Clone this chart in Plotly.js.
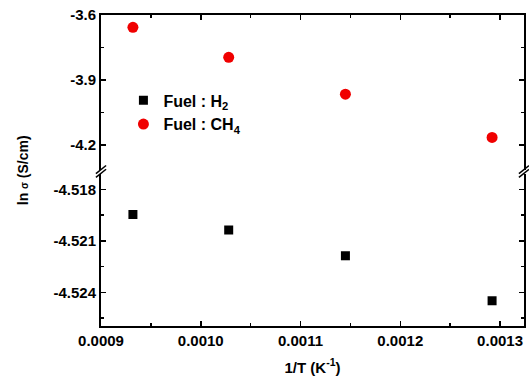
<!DOCTYPE html>
<html>
<head>
<meta charset="utf-8">
<script src="https://cdn.plot.ly/plotly-3.0.1.min.js"></script>
<style>html,body{margin:0;padding:0;background:#fff;}#chart{width:529px;height:382px;}</style>
</head>
<body>
<div id="chart"></div>
<script>
// Data
const invT = [0.000932, 0.001028, 0.001145, 0.001292];
const lnSigmaH2 = [-4.51946, -4.52037, -4.52187, -4.52449];
const lnSigmaCH4 = [-3.657, -3.795, -3.965, -4.1645];
const nameH2 = 'Fuel : H<sub>2</sub>';
const nameCH4 = 'Fuel : CH<sub>4</sub>';
const xTickVals = [0.0009, 0.0010, 0.0011, 0.0012, 0.0013];
const xTickText = ['0.0009', '0.0010', '0.0011', '0.0012', '0.0013'];
const upperTickVals = [-3.6, -3.9, -4.2];
const upperTickText = ['-3.6', '-3.9', '-4.2'];
const lowerTickVals = [-4.518, -4.521, -4.524];
const lowerTickText = ['-4.518', '-4.521', '-4.524'];

const font = {family: 'Liberation Sans, Arial, sans-serif', size: 15, color: '#000'};
const boldFont = Object.assign({}, font, {weight: 'bold'});

const traces = [
  {x: invT, y: lnSigmaH2, name: nameH2, type: 'scatter', mode: 'markers', xaxis: 'x', yaxis: 'y',
   marker: {symbol: 'square', size: 9, color: '#000'}},
  {x: invT, y: lnSigmaCH4, name: nameCH4, type: 'scatter', mode: 'markers', xaxis: 'x2', yaxis: 'y2',
   marker: {symbol: 'circle', size: 11, color: '#f00000'}}
];

const axCommon = {
  showline: true, linecolor: '#000', linewidth: 2,
  ticks: 'inside', ticklen: 5, tickwidth: 1.5, tickcolor: '#000',
  showgrid: false, zeroline: false, tickfont: boldFont
};
const xMinor = {ticks: 'inside', ticklen: 3, tickwidth: 1.5, tickcolor: '#000', dtick: 0.00005, tick0: 0.00095};

const layout = {
  width: 529, height: 382,
  margin: {l: 101, r: 5, t: 15, b: 56},
  paper_bgcolor: '#fff', plot_bgcolor: '#fff',
  font: font,
  showlegend: true,
  legend: {x: 0.053, y: 0.78, xanchor: 'left', yanchor: 'top', bgcolor: 'rgba(0,0,0,0)',
           font: {family: font.family, size: 16, color: '#000', weight: 'bold'}, tracegroupgap: 0},
  xaxis: Object.assign({}, axCommon, {
    range: [0.0009, 0.001324], anchor: 'y', mirror: false,
    tickmode: 'array', tickvals: xTickVals, ticktext: xTickText,
    minor: xMinor,
    title: {text: '1/T (K<sup>-1</sup>)', font: boldFont, standoff: 14}
  }),
  xaxis2: Object.assign({}, axCommon, {
    matches: 'x', anchor: 'y2', side: 'top', mirror: false, showticklabels: false,
    tickmode: 'array', tickvals: xTickVals, ticktext: xTickText,
    minor: xMinor
  }),
  yaxis: Object.assign({}, axCommon, {
    domain: [0, 0.488], range: [-4.52596, -4.51712], anchor: 'x', mirror: 'ticks',
    tickmode: 'array', tickvals: lowerTickVals, ticktext: lowerTickText,
    minor: {ticks: 'inside', ticklen: 3, tickwidth: 1.5, tickcolor: '#000', tickvals: [-4.5195, -4.5225, -4.5255]}
  }),
  yaxis2: Object.assign({}, axCommon, {
    domain: [0.501, 1], range: [-4.3154, -3.6], anchor: 'x2', mirror: 'ticks',
    tickmode: 'array', tickvals: upperTickVals, ticktext: upperTickText,
    minor: {ticks: 'inside', ticklen: 3, tickwidth: 1.5, tickcolor: '#000', tickvals: [-3.75, -4.05]}
  }),
  annotations: [
    {xref: 'paper', yref: 'paper', x: -0.185, y: 0.5, xanchor: 'center', yanchor: 'middle',
     text: 'ln <span style="font-size:10px">σ</span> (S/cm)', textangle: -90, showarrow: false,
     font: Object.assign({}, boldFont, {size: 14})}
  ],
  shapes: [
    {type: 'line', xref: 'paper', yref: 'paper', x0: -0.012, y0: 0.478, x1: 0.012, y1: 0.504, line: {color: '#000', width: 1.5}},
    {type: 'line', xref: 'paper', yref: 'paper', x0: -0.012, y0: 0.490, x1: 0.012, y1: 0.516, line: {color: '#000', width: 1.5}},
    {type: 'line', xref: 'paper', yref: 'paper', x0: 0.988, y0: 0.478, x1: 1.012, y1: 0.504, line: {color: '#000', width: 1.5}},
    {type: 'line', xref: 'paper', yref: 'paper', x0: 0.988, y0: 0.490, x1: 1.012, y1: 0.516, line: {color: '#000', width: 1.5}}
  ]
};

Plotly.newPlot('chart', traces, layout, {displayModeBar: false, staticPlot: true});
</script>
</body>
</html>
